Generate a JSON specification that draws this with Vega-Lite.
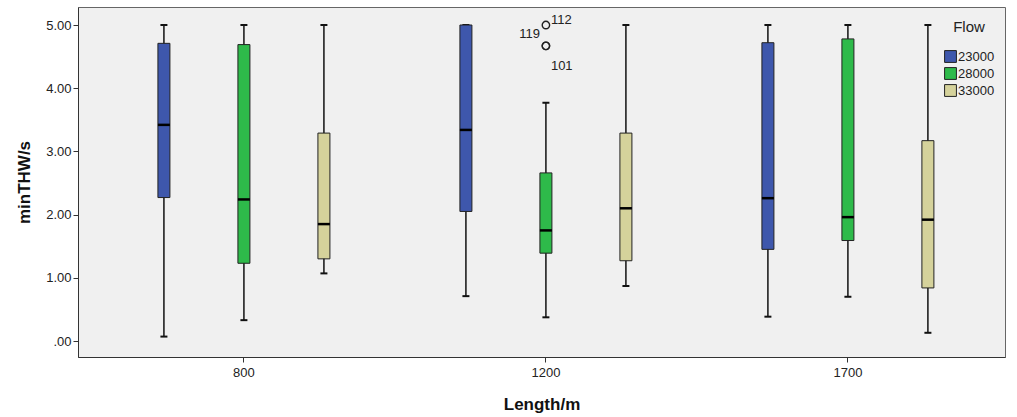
{
  "$schema": "https://vega.github.io/schema/vega-lite/v6.json",
  "width": 927,
  "height": 350,
  "autosize": {"type": "none"},
  "padding": {"left": 78, "top": 7, "right": 12, "bottom": 60},
  "background": "white",
  "config": {
    "view": {"fill": "#F0F0F0", "stroke": "#666666", "strokeWidth": 1},
    "font": "Liberation Sans",
    "axis": {"grid": false, "domainColor": "#333333", "tickColor": "#333333", "labelColor": "#222222", "labelFontSize": 13, "titleFontSize": 17, "titleFontWeight": "bold", "titleColor": "#111111", "tickSize": 5}
  },
  "datasets": {
    "boxes": [
      {"Length": "800", "Flow": "23000", "lower": 0.07, "q1": 2.27, "median": 3.42, "q3": 4.71, "upper": 5.0},
      {"Length": "800", "Flow": "28000", "lower": 0.33, "q1": 1.23, "median": 2.24, "q3": 4.69, "upper": 5.0},
      {"Length": "800", "Flow": "33000", "lower": 1.07, "q1": 1.30, "median": 1.85, "q3": 3.29, "upper": 5.0},
      {"Length": "1200", "Flow": "23000", "lower": 0.71, "q1": 2.05, "median": 3.34, "q3": 5.0, "upper": 5.0},
      {"Length": "1200", "Flow": "28000", "lower": 0.375, "q1": 1.39, "median": 1.75, "q3": 2.66, "upper": 3.77},
      {"Length": "1200", "Flow": "33000", "lower": 0.87, "q1": 1.27, "median": 2.10, "q3": 3.29, "upper": 5.0},
      {"Length": "1700", "Flow": "23000", "lower": 0.385, "q1": 1.45, "median": 2.26, "q3": 4.72, "upper": 5.0},
      {"Length": "1700", "Flow": "28000", "lower": 0.70, "q1": 1.59, "median": 1.96, "q3": 4.78, "upper": 5.0},
      {"Length": "1700", "Flow": "33000", "lower": 0.13, "q1": 0.84, "median": 1.92, "q3": 3.17, "upper": 5.0}
    ],
    "outliers": [
      {"Length": "1200", "Flow": "28000", "value": 5.0, "id": "112"},
      {"Length": "1200", "Flow": "28000", "value": 4.67, "id": "119"},
      {"Length": "1200", "Flow": "28000", "value": 4.67, "id": "101"}
    ]
  },
  "encoding": {
    "x": {
      "field": "Length", "type": "nominal", "sort": ["800", "1200", "1700"],
      "scale": {"paddingInner": 0, "paddingOuter": 0.0348, "align": 0.71},
      "axis": {"title": "Length/m", "labelAngle": 0, "labelPadding": 4, "titlePadding": 17}
    },
    "xOffset": {
      "field": "Flow", "type": "nominal", "sort": ["23000", "28000", "33000"],
      "scale": {"paddingInner": 0, "paddingOuter": 0.3875}
    }
  },
  "layer": [
    {
      "data": {"name": "boxes"},
      "mark": {"type": "rule", "color": "#111111", "strokeWidth": 1.5},
      "encoding": {
        "y": {"field": "lower", "type": "quantitative",
          "scale": {"domain": [-0.253, 5.285], "nice": false, "zero": false},
          "axis": {"title": "minTHW/s", "values": [0, 1, 2, 3, 4, 5], "labelExpr": "datum.value == 0 ? '.00' : format(datum.value, '.2f')", "titlePadding": 12}},
        "y2": {"field": "upper"}
      }
    },
    {
      "data": {"name": "boxes"},
      "mark": {"type": "tick", "color": "#111111", "size": 7, "thickness": 2, "opacity": 1},
      "encoding": {"y": {"field": "upper", "type": "quantitative"}}
    },
    {
      "data": {"name": "boxes"},
      "mark": {"type": "tick", "color": "#111111", "size": 7, "thickness": 2, "opacity": 1},
      "encoding": {"y": {"field": "lower", "type": "quantitative"}}
    },
    {
      "data": {"name": "boxes"},
      "mark": {"type": "bar", "width": 12, "stroke": "#222222", "strokeWidth": 1},
      "encoding": {
        "y": {"field": "q1", "type": "quantitative"},
        "y2": {"field": "q3"},
        "fill": {
          "field": "Flow", "type": "nominal", "sort": ["23000", "28000", "33000"],
          "scale": {"domain": ["23000", "28000", "33000"], "range": ["#3E57AC", "#2EBA4A", "#D5D29B"]},
          "legend": {
            "title": "Flow", "orient": "none", "legendX": 866, "legendY": 13,
            "titleFontSize": 15, "titleFontWeight": "normal", "titleColor": "#222222", "titlePadding": 15, "titleAnchor": "middle",
            "labelFontSize": 13, "labelColor": "#222222", "labelOffset": 1,
            "symbolType": "square", "symbolSize": 140, "symbolStrokeColor": "#222222", "symbolStrokeWidth": 1, "symbolOpacity": 1,
            "rowPadding": 0
          }
        }
      }
    },
    {
      "data": {"name": "boxes"},
      "mark": {"type": "tick", "color": "#000000", "size": 12, "thickness": 2.5, "opacity": 1},
      "encoding": {"y": {"field": "median", "type": "quantitative"}}
    },
    {
      "data": {"name": "outliers"},
      "mark": {"type": "point", "shape": "circle", "filled": false, "stroke": "#222222", "strokeWidth": 1.4, "size": 55, "opacity": 1},
      "encoding": {"y": {"field": "value", "type": "quantitative"}}
    },
    {
      "data": {"name": "outliers"},
      "transform": [{"filter": "datum.id == '112'"}],
      "mark": {"type": "text", "align": "left", "baseline": "alphabetic", "dx": 5, "dy": -1, "fontSize": 13, "color": "#222222"},
      "encoding": {"y": {"field": "value", "type": "quantitative"}, "text": {"field": "id"}}
    },
    {
      "data": {"name": "outliers"},
      "transform": [{"filter": "datum.id == '119'"}],
      "mark": {"type": "text", "align": "right", "baseline": "alphabetic", "dx": -6, "dy": -8, "fontSize": 13, "color": "#222222"},
      "encoding": {"y": {"field": "value", "type": "quantitative"}, "text": {"field": "id"}}
    },
    {
      "data": {"name": "outliers"},
      "transform": [{"filter": "datum.id == '101'"}],
      "mark": {"type": "text", "align": "left", "baseline": "alphabetic", "dx": 5, "dy": 24, "fontSize": 13, "color": "#222222"},
      "encoding": {"y": {"field": "value", "type": "quantitative"}, "text": {"field": "id"}}
    }
  ]
}
